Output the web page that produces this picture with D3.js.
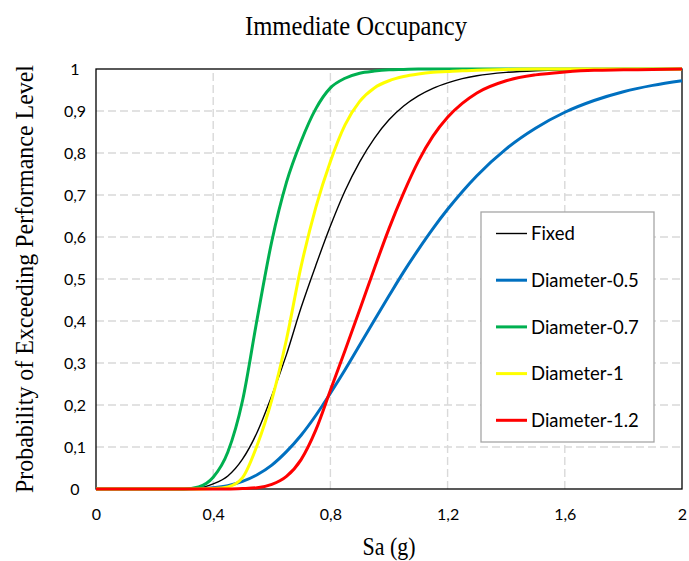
<!DOCTYPE html>
<html>
<head>
<meta charset="utf-8">
<script src="https://cdn.jsdelivr.net/npm/d3@7"></script>
<style>
  html, body { margin: 0; padding: 0; background: #fff; }
  svg { display: block; }
</style>
</head>
<body>
<svg id="chart" width="689" height="561"></svg>
<script>
// Spectral acceleration Sa (g) at which each fragility curve is sampled
const sa = [0, 0.30, 0.35, 0.40, 0.45, 0.50, 0.55, 0.60, 0.65, 0.70, 0.75, 0.80, 0.85,
            0.90, 0.95, 1.00, 1.05, 1.10, 1.15, 1.20, 1.25, 1.30, 1.40, 1.50, 1.60,
            1.70, 1.80, 1.90, 2.00];

// Probability of exceeding the Immediate Occupancy level
const fixed = [0, 0, 0.002, 0.012, 0.031, 0.071, 0.135, 0.222, 0.32, 0.432, 0.532, 0.626, 0.71,
               0.779, 0.835, 0.879, 0.912, 0.936, 0.954, 0.967, 0.977, 0.984, 0.992, 0.996, 0.998,
               0.999, 1, 1, 1];
const diameter05 = [0, 0, 0.001, 0.003, 0.008, 0.018, 0.034, 0.057, 0.089, 0.128, 0.175, 0.228, 0.284,
                    0.343, 0.402, 0.46, 0.517, 0.57, 0.62, 0.666, 0.708, 0.746, 0.81, 0.859, 0.897,
                    0.925, 0.946, 0.961, 0.972];
const diameter07 = [0, 0, 0.005, 0.028, 0.088, 0.21, 0.405, 0.59, 0.73, 0.828, 0.905, 0.955, 0.978,
                    0.99, 0.995, 0.998, 0.999, 1, 1, 1, 1, 1, 1, 1, 1,
                    1, 1, 1, 1];
const diameter1 = [0, 0, 0, 0.001, 0.005, 0.027, 0.104, 0.212, 0.356, 0.53, 0.67, 0.78, 0.867,
                   0.923, 0.955, 0.972, 0.982, 0.988, 0.992, 0.994, 0.996, 0.997, 0.999, 1, 1,
                   1, 1, 1, 1];
const diameter12 = [0, 0, 0, 0, 0, 0.001, 0.003, 0.011, 0.03, 0.07, 0.14, 0.235, 0.33,
                    0.427, 0.525, 0.62, 0.705, 0.78, 0.84, 0.885, 0.918, 0.943, 0.972, 0.986, 0.993,
                    0.997, 0.998, 0.999, 1];

const seriesNames = ["Fixed", "Diameter-0.5", "Diameter-0.7", "Diameter-1", "Diameter-1.2"];
const seriesValues = [fixed, diameter05, diameter07, diameter1, diameter12];
const seriesColors = ["#000000", "#0070C0", "#00B050", "#FFFF00", "#FF0000"];
const seriesWidths = [1.4, 3, 3, 3, 3];

const xTicks = [0, 0.4, 0.8, 1.2, 1.6, 2];
const yTicks = [0, 0.1, 0.2, 0.3, 0.4, 0.5, 0.6, 0.7, 0.8, 0.9, 1];
const fmt = v => String(v).replace(".", ",");

const svg = d3.select("#chart");
const x = d3.scaleLinear().domain([0, 2]).range([96, 682]);
const y = d3.scaleLinear().domain([0, 1]).range([489, 69]);

const tickFont = "Lato, 'Open Sans', sans-serif";
const serif = "'Liberation Serif', 'Times New Roman', serif";

// Dashed gridlines
const grid = svg.append("g").attr("stroke", "#d9d9d9").attr("stroke-width", 1.4)
  .attr("stroke-dasharray", "8,4");
grid.selectAll("line.h").data(yTicks.filter(v => v > 0 && v < 1)).enter().append("line")
  .attr("x1", x(0)).attr("x2", x(2)).attr("y1", d => y(d)).attr("y2", d => y(d));
grid.selectAll("line.v").data(xTicks.filter(v => v > 0 && v < 2)).enter().append("line")
  .attr("y1", y(0)).attr("y2", y(1)).attr("x1", d => x(d)).attr("x2", d => x(d));

// Plot frame
svg.append("rect")
  .attr("x", x(0)).attr("y", y(1))
  .attr("width", x(2) - x(0)).attr("height", y(0) - y(1))
  .attr("fill", "none").attr("stroke", "#000").attr("stroke-width", 1.3);

// Axes (labels only; the frame supplies the lines)
const xAxis = d3.axisBottom(x).tickValues(xTicks).tickFormat(fmt).tickSize(0).tickPadding(0);
const gx = svg.append("g").attr("transform", `translate(0,${y(0)})`).call(xAxis);
gx.select(".domain").remove();
gx.selectAll("text").attr("font-family", tickFont).attr("font-size", 16).attr("fill", "#000")
  .attr("dy", null).attr("y", 31);

const yAxis = d3.axisLeft(y).tickValues(yTicks).tickFormat(fmt).tickSize(0).tickPadding(0);
const gy = svg.append("g").attr("transform", "translate(75,0)").call(yAxis);
gy.select(".domain").remove();
gy.selectAll("text").attr("font-family", tickFont).attr("font-size", 16).attr("fill", "#000")
  .attr("text-anchor", "middle").attr("x", 0).attr("dy", "0.35em");

// Fragility curves
const line = d3.line().x(d => x(d[0])).y(d => y(d[1])).curve(d3.curveMonotoneX);
seriesValues.forEach((vals, i) => {
  svg.append("path")
    .datum(sa.map((s, j) => [s, vals[j]]))
    .attr("fill", "none")
    .attr("stroke", seriesColors[i])
    .attr("stroke-width", seriesWidths[i])
    .attr("stroke-linejoin", "round")
    .attr("d", line);
});

// Legend
const legend = svg.append("g");
legend.append("rect").attr("x", 481).attr("y", 212).attr("width", 173).attr("height", 230)
  .attr("fill", "#fff").attr("stroke", "#a6a6a6").attr("stroke-width", 1.3);
seriesNames.forEach((name, i) => {
  const cy = 233.5 + i * 46.7;
  legend.append("line").attr("x1", 496).attr("x2", 527).attr("y1", cy).attr("y2", cy)
    .attr("stroke", seriesColors[i]).attr("stroke-width", seriesWidths[i]);
  legend.append("text").attr("x", 531).attr("y", cy).attr("dy", "0.36em")
    .attr("font-family", tickFont).attr("font-size", 18.5).attr("fill", "#000").text(name);
});

// Titles (condensed serif)
svg.append("text").attr("x", 356).attr("y", 35).attr("text-anchor", "middle")
  .attr("font-family", serif).attr("font-size", 28).attr("fill", "#000")
  .attr("textLength", 222).attr("lengthAdjust", "spacingAndGlyphs")
  .text("Immediate  Occupancy");
svg.append("text").attr("x", x(1)).attr("y", 555).attr("text-anchor", "middle")
  .attr("font-family", serif).attr("font-size", 26).attr("fill", "#000")
  .attr("textLength", 53).attr("lengthAdjust", "spacingAndGlyphs")
  .text("Sa (g)");
svg.append("text").attr("transform", `translate(33,${(y(0) + y(1)) / 2}) rotate(-90)`)
  .attr("text-anchor", "middle")
  .attr("font-family", serif).attr("font-size", 26).attr("fill", "#000")
  .attr("textLength", 428).attr("lengthAdjust", "spacingAndGlyphs")
  .text("Probability  of  Exceeding  Performance  Level");
</script>
</body>
</html>
